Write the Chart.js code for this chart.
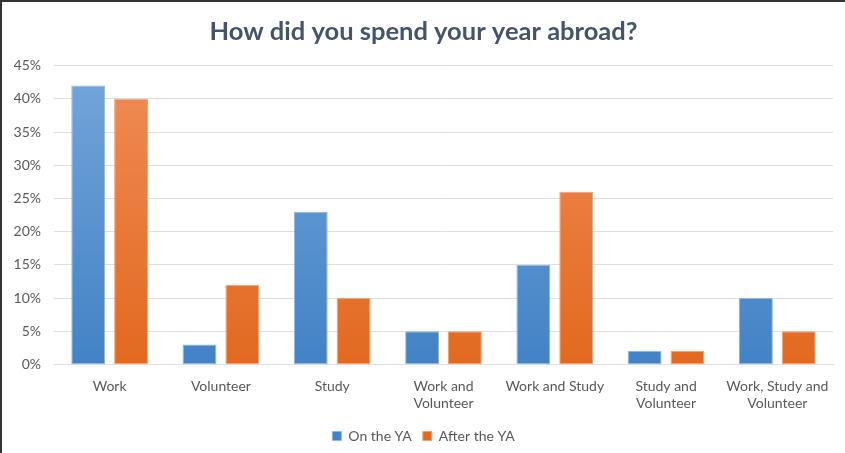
<!DOCTYPE html>
<html>
<head>
<meta charset="utf-8">
<script src="https://cdn.jsdelivr.net/npm/chart.js@4/dist/chart.umd.min.js"></script>
<style>
html,body{margin:0;padding:0;background:#fff;}
#wrap{position:relative;width:845px;height:453px;box-sizing:border-box;border-top:2px solid #333;border-left:2px solid #333;}
</style>
</head>
<body>
<div id="wrap"><canvas id="c"></canvas></div>
<script>
const categories = ["Work", "Volunteer", "Study", ["Work and", "Volunteer"], "Work and Study", ["Study and", "Volunteer"], ["Work, Study and", "Volunteer"]];
const onTheYA = [42, 3, 23, 5, 15, 2, 10];
const afterTheYA = [40, 12, 10, 5, 26, 2, 5];
const seriesNames = ["On the YA", "After the YA"];

function grad(top, bottom) {
  return function(ctx) {
    const chart = ctx.chart;
    const area = chart.chartArea;
    if (!area) return bottom;
    const g = chart.ctx.createLinearGradient(0, area.top, 0, area.bottom);
    g.addColorStop(0, top);
    g.addColorStop(1, bottom);
    return g;
  };
}

Chart.defaults.font.family = "Lato, 'Open Sans', sans-serif";
Chart.defaults.color = "#595959";

new Chart(document.getElementById('c'), {
  type: 'bar',
  data: {
    labels: categories,
    datasets: [
      { label: seriesNames[0], data: onTheYA, backgroundColor: grad('#74A6DA', '#4282C5'), borderColor: '#8DB7E3', borderWidth: 1, borderSkipped: false },
      { label: seriesNames[1], data: afterTheYA, backgroundColor: grad('#F08C58', '#E2691F'), borderColor: '#F3A173', borderWidth: 1, borderSkipped: false }
    ]
  },
  options: {
    responsive: true,
    maintainAspectRatio: false,
    animation: false,
    layout: { padding: { left: 12, right: 12, top: 4, bottom: 0 } },
    categoryPercentage: 0.77,
    barPercentage: 0.79,
    plugins: {
      title: {
        display: true,
        text: 'How did you spend your year abroad?',
        color: '#44546A',
        font: { size: 25.5, weight: 'bold' },
        padding: { top: 10, bottom: 19 }
      },
      legend: {
        position: 'bottom',
        labels: { boxWidth: 9, boxHeight: 9, padding: 11, font: { size: 14 }, color: '#595959' }
      },
      tooltip: { enabled: false }
    },
    scales: {
      y: {
        min: 0, max: 45,
        afterFit: s => { s.width = 40; },
        ticks: { stepSize: 5, callback: v => v + '%', font: { size: 14 }, color: '#595959', padding: 13 },
        grid: { color: '#DEDEDE', drawTicks: false },
        border: { display: false }
      },
      x: {
        ticks: { font: { size: 14 }, color: '#595959', padding: 6, maxRotation: 0, autoSkip: false },
        grid: { display: false },
        border: { color: '#DEDEDE' }
      }
    }
  }
});
</script>
</body>
</html>
